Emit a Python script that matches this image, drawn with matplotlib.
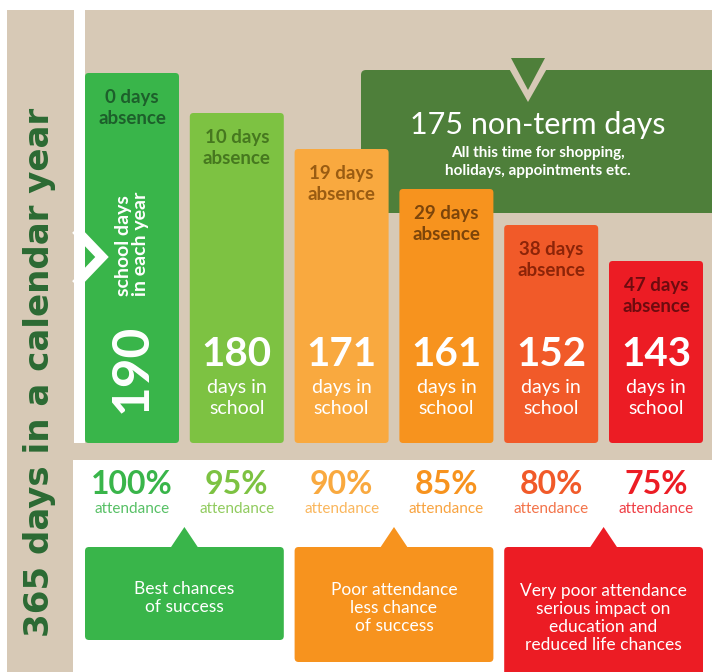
import matplotlib.pyplot as plt
from matplotlib.patches import FancyBboxPatch, Polygon, Rectangle

plt.rcParams['font.family'] = ['Lato', 'DejaVu Sans']

# data
days_absent = [0, 10, 19, 29, 38, 47]
days_in_school = [190, 180, 171, 161, 152, 143]
attendance = ["100%", "95%", "90%", "85%", "80%", "75%"]
bar_colors = ["#39b54a", "#7dc242", "#f9a93f", "#f7931e", "#f15a29", "#ec1c24"]
label_colors = ["#1d5f2b", "#46781f", "#9a5c12", "#7d450a", "#8c2408", "#6e0b0f"]
callouts = ["Best chances\nof success",
            "Poor attendance\nless chance\nof success",
            "Very poor attendance\nserious impact on\neducation and\nreduced life chances"]
callout_colors = ["#39b54a", "#f7931e", "#ec1c24"]
non_term_days = 175

BEIGE = "#d7c9b6"
DARK_GREEN = "#4e7f3a"
W, H = 712, 672
X0, STEP, BW = 132, 104.8, 94  # bar layout in pixels


def cx(i):
    return X0 + STEP * i


fig = plt.figure(figsize=(W / 100, H / 100), dpi=100)

# background layer in pixel coordinates
bg = fig.add_axes([0, 0, 1, 1])
bg.set_xlim(0, W)
bg.set_ylim(H, 0)
bg.axis('off')
bg.add_patch(Rectangle((7, 10), W - 7, 450, color=BEIGE, lw=0))
bg.add_patch(Rectangle((7, 10), 66, H - 10, color=BEIGE, lw=0))
bg.add_patch(Rectangle((74, 0), 11, 443, color='white', lw=0))
bg.add_patch(Rectangle((73, 460), W - 73, H - 460, color='white', lw=0))

bg.text(40, 372, "365 days in a calendar year", rotation=90, ha='center', va='center',
        color="#2b6a33", fontsize=24.5, fontweight='bold', family='DejaVu Sans')

# non-term days box
bg.add_patch(FancyBboxPatch((361, 70), 370, 143, boxstyle="round,pad=0,rounding_size=5",
                            fc=DARK_GREEN, lw=0))
bg.add_patch(Polygon([(503, 58), (553, 58), (528, 102)], closed=True, fc=BEIGE, lw=0))
bg.add_patch(Polygon([(511, 58), (545, 58), (528, 90)], closed=True, fc=DARK_GREEN, lw=0))
bg.text(538, 125, f"{non_term_days} non-term days", color='white', fontsize=22,
        ha='center', va='center')
bg.text(538, 162, "All this time for shopping,\nholidays, appointments etc.", color='white',
        fontsize=11, fontweight='bold', ha='center', va='center', linespacing=1.3)

# attendance labels
for i, pct in enumerate(attendance):
    bg.text(cx(i), 484, pct, color=bar_colors[i], fontsize=23, fontweight='bold',
            ha='center', va='center')
    bg.text(cx(i), 509, "attendance", color=bar_colors[i], fontsize=11,
            ha='center', va='center', alpha=0.85)

# callout boxes
for k, txt in enumerate(callouts):
    left = cx(2 * k) - BW / 2
    right = cx(2 * k + 1) + BW / 2
    mid = (left + right) / 2
    hgt = [93, 115, 140][k]
    bg.add_patch(FancyBboxPatch((left, 547), right - left, hgt,
                                boxstyle="round,pad=0,rounding_size=4",
                                fc=callout_colors[k], lw=0))
    bg.add_patch(Polygon([(mid - 14, 548), (mid + 14, 548), (mid, 527)], closed=True,
                         fc=callout_colors[k], lw=0))
    n = txt.count("\n") + 1
    bg.text(mid, 588 + (n - 1) * 10, txt, color='white', fontsize=12.5, ha='center',
            va='center', linespacing=1.15)

# bars
ymin = 97.5
ax = fig.add_axes([85 / W, (H - 443) / H, (W - 85) / W, 433 / H])
ax.set_xlim((85 - X0) / STEP, (W - X0) / STEP)
ax.set_ylim(ymin, ymin + 433 / 4)
ax.axis('off')
ax.patch.set_alpha(0)
bars = ax.bar(range(len(days_in_school)), [d - ymin for d in days_in_school],
              bottom=ymin, width=BW / STEP, color=bar_colors)

# swap the plain rectangles for slightly rounded ones
for b, c in zip(bars, bar_colors):
    b.set_visible(False)
    ax.add_patch(FancyBboxPatch((b.get_x(), b.get_y()), b.get_width(), b.get_height(),
                                boxstyle="round,pad=0,rounding_size=0.035",
                                mutation_aspect=STEP / 4, fc=c, lw=0))

for i, d in enumerate(days_in_school):
    ax.text(i, d - 6.25, f"{days_absent[i]} days", ha='center', va='center',
            color=label_colors[i], fontsize=13.5, fontweight='bold')
    ax.text(i, d - 11.25, "absence", ha='center', va='center',
            color=label_colors[i], fontsize=13.5, fontweight='bold')
    if i == 0:
        ax.text(i, 116.1, str(d), rotation=90, ha='center', va='center', color='white',
                fontsize=37, fontweight='bold')
        ax.text(i, 147.3, "school days\nin each year", rotation=90, ha='center',
                va='center', color='white', fontsize=14, fontweight='bold',
                multialignment='left', linespacing=1.0)
    else:
        ax.text(i, 119.5, str(d), ha='center', va='center', color='white',
                fontsize=29, fontweight='bold')
        ax.text(i, 111.25, "days in", ha='center', va='center', color='white', fontsize=14)
        ax.text(i, 106.25, "school", ha='center', va='center', color='white', fontsize=14)

# white chevron on the year line
ax.plot([79, 102, 79], [233, 257, 281], color='white', lw=7, transform=bg.transData,
        clip_on=False, solid_joinstyle='miter')

fig.savefig("out.png", dpi=100)
